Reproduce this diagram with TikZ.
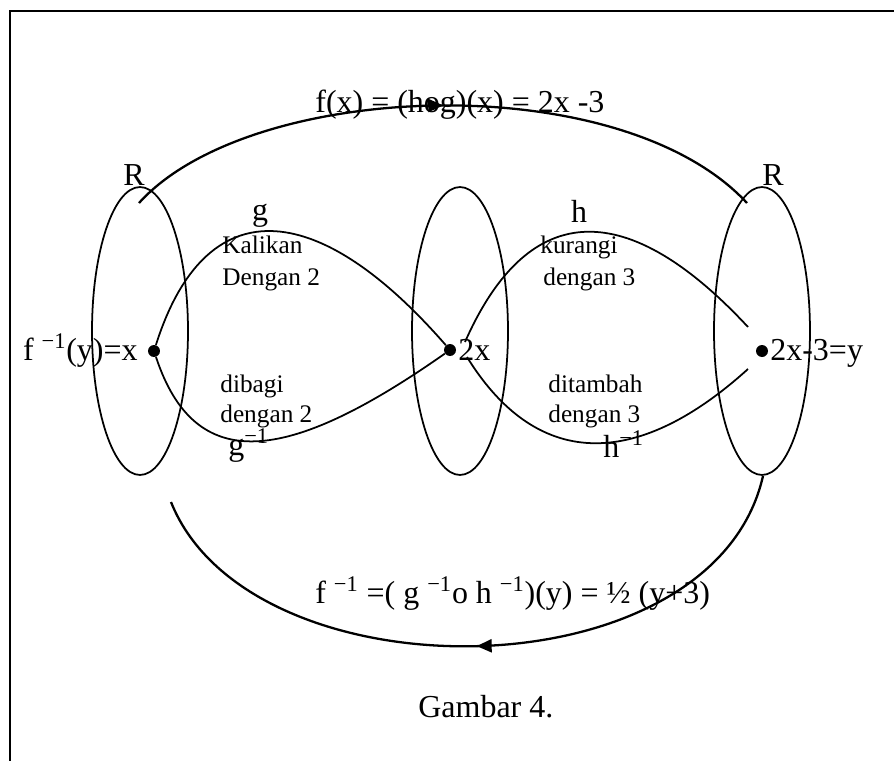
\documentclass[tikz,border=0pt]{standalone}
\usepackage{fontspec}
\setmainfont{Liberation Serif}
\usetikzlibrary{arrows.meta,positioning,shapes.geometric,decorations.markings}

\begin{document}
\begin{tikzpicture}[
    x=0.02cm, y=-0.02cm,
    lbl/.style={font=\fontsize{18.2}{20}\selectfont, inner sep=0pt},
    note/.style={font=\fontsize{14.4}{17}\selectfont, inner sep=0pt, anchor=base west},
    rset/.style={draw, ellipse, line width=1pt, minimum width=1.92cm, minimum height=5.76cm, inner sep=0pt},
    dot/.style={circle, fill, inner sep=0pt, minimum size=0.24cm},
    map/.style={line width=1pt},
    midarrow/.style={line width=1.3pt, decoration={markings, mark=at position 0.5 with {\arrow{Triangle[length=3mm,width=2.6mm]}}}, postaction={decorate}}
]
\useasboundingbox (0,0) rectangle (894,761);

% === Frame ===
\draw[line width=1.4pt] (10,761) -- (10,11) -- (894,11);

% === Sets ===
\node[rset] (setA) at (140,331) {};
\node[rset] (setB) at (460,331) {};
\node[rset] (setC) at (762,331) {};
\node[lbl, anchor=base] (rA) at (134,185) {R};
\node[lbl, anchor=base] (rC) at (773,185) {R};

% === Elements ===
\node[dot] (x1) at (154,351) {};
\node[dot] (x2) at (450,350) {};
\node[dot] (x3) at (762,351) {};
\node[lbl, anchor=base east] (x1lbl) at (138,360) {f \textsuperscript{−1}(y)=x};
\node[lbl, anchor=base west] (x2lbl) at (458,360) {2x};
\node[lbl, anchor=base west] (x3lbl) at (770,360) {2x-3=y};

% === g and g^-1 ===
\draw[map] (x1) .. controls (205,190) and (316,196) .. (x2);
\draw[map] (x1) .. controls (195,475) and (286,465) .. (x2);
\node[lbl, anchor=base] (glbl) at (260,220) {g};
\node[note] (gtxt1) at (222,253) {Kalikan};
\node[note] (gtxt2) at (222,285) {Dengan 2};
\node[note] (ginv1) at (220,392) {dibagi};
\node[note] (ginv2) at (220,422) {dengan 2};
\node[lbl, anchor=base west] (ginvlbl) at (228,455) {g\textsuperscript{−1}};

% === h and h^-1 ===
\coordinate (hs) at (465,342);
\coordinate (he) at (748,327);
\coordinate (his) at (467,357);
\coordinate (hie) at (748,369);
\draw[map] (hs) .. controls (530,195) and (630,200) .. (he);
\draw[map] (his) .. controls (540,475) and (642,465) .. (hie);
\node[lbl, anchor=base] (hlbl) at (579,222) {h};
\node[note] (htxt1) at (540,253) {kurangi};
\node[note] (htxt2) at (543,285) {dengan 3};
\node[note] (hinv1) at (548,392) {ditambah};
\node[note] (hinv2) at (548,422) {dengan 3};
\node[lbl, anchor=base west] (hinvlbl) at (603,457) {h\textsuperscript{−1}};

% === f and f^-1 ===
\coordinate (topL) at (139,203);
\coordinate (topR) at (747,203);
\coordinate (botR) at (763,476);
\coordinate (botL) at (171,502);
\draw[midarrow] (topL) .. controls (250,80) and (620,66) .. (topR);
\draw[midarrow] (botR) .. controls (713,697) and (250,700) .. (botL);
\node[lbl, anchor=base west] (ftxt) at (315,112) {f(x) = (hog)(x) = 2x -3};
\node[lbl, anchor=base west] (finvtxt) at (315,603) {f \textsuperscript{−1} =( g \textsuperscript{−1}o h \textsuperscript{−1})(y) = ½ (y+3)};

\node[lbl, anchor=base west] (caption) at (418,717) {Gambar 4.};

\end{tikzpicture}
\end{document}
